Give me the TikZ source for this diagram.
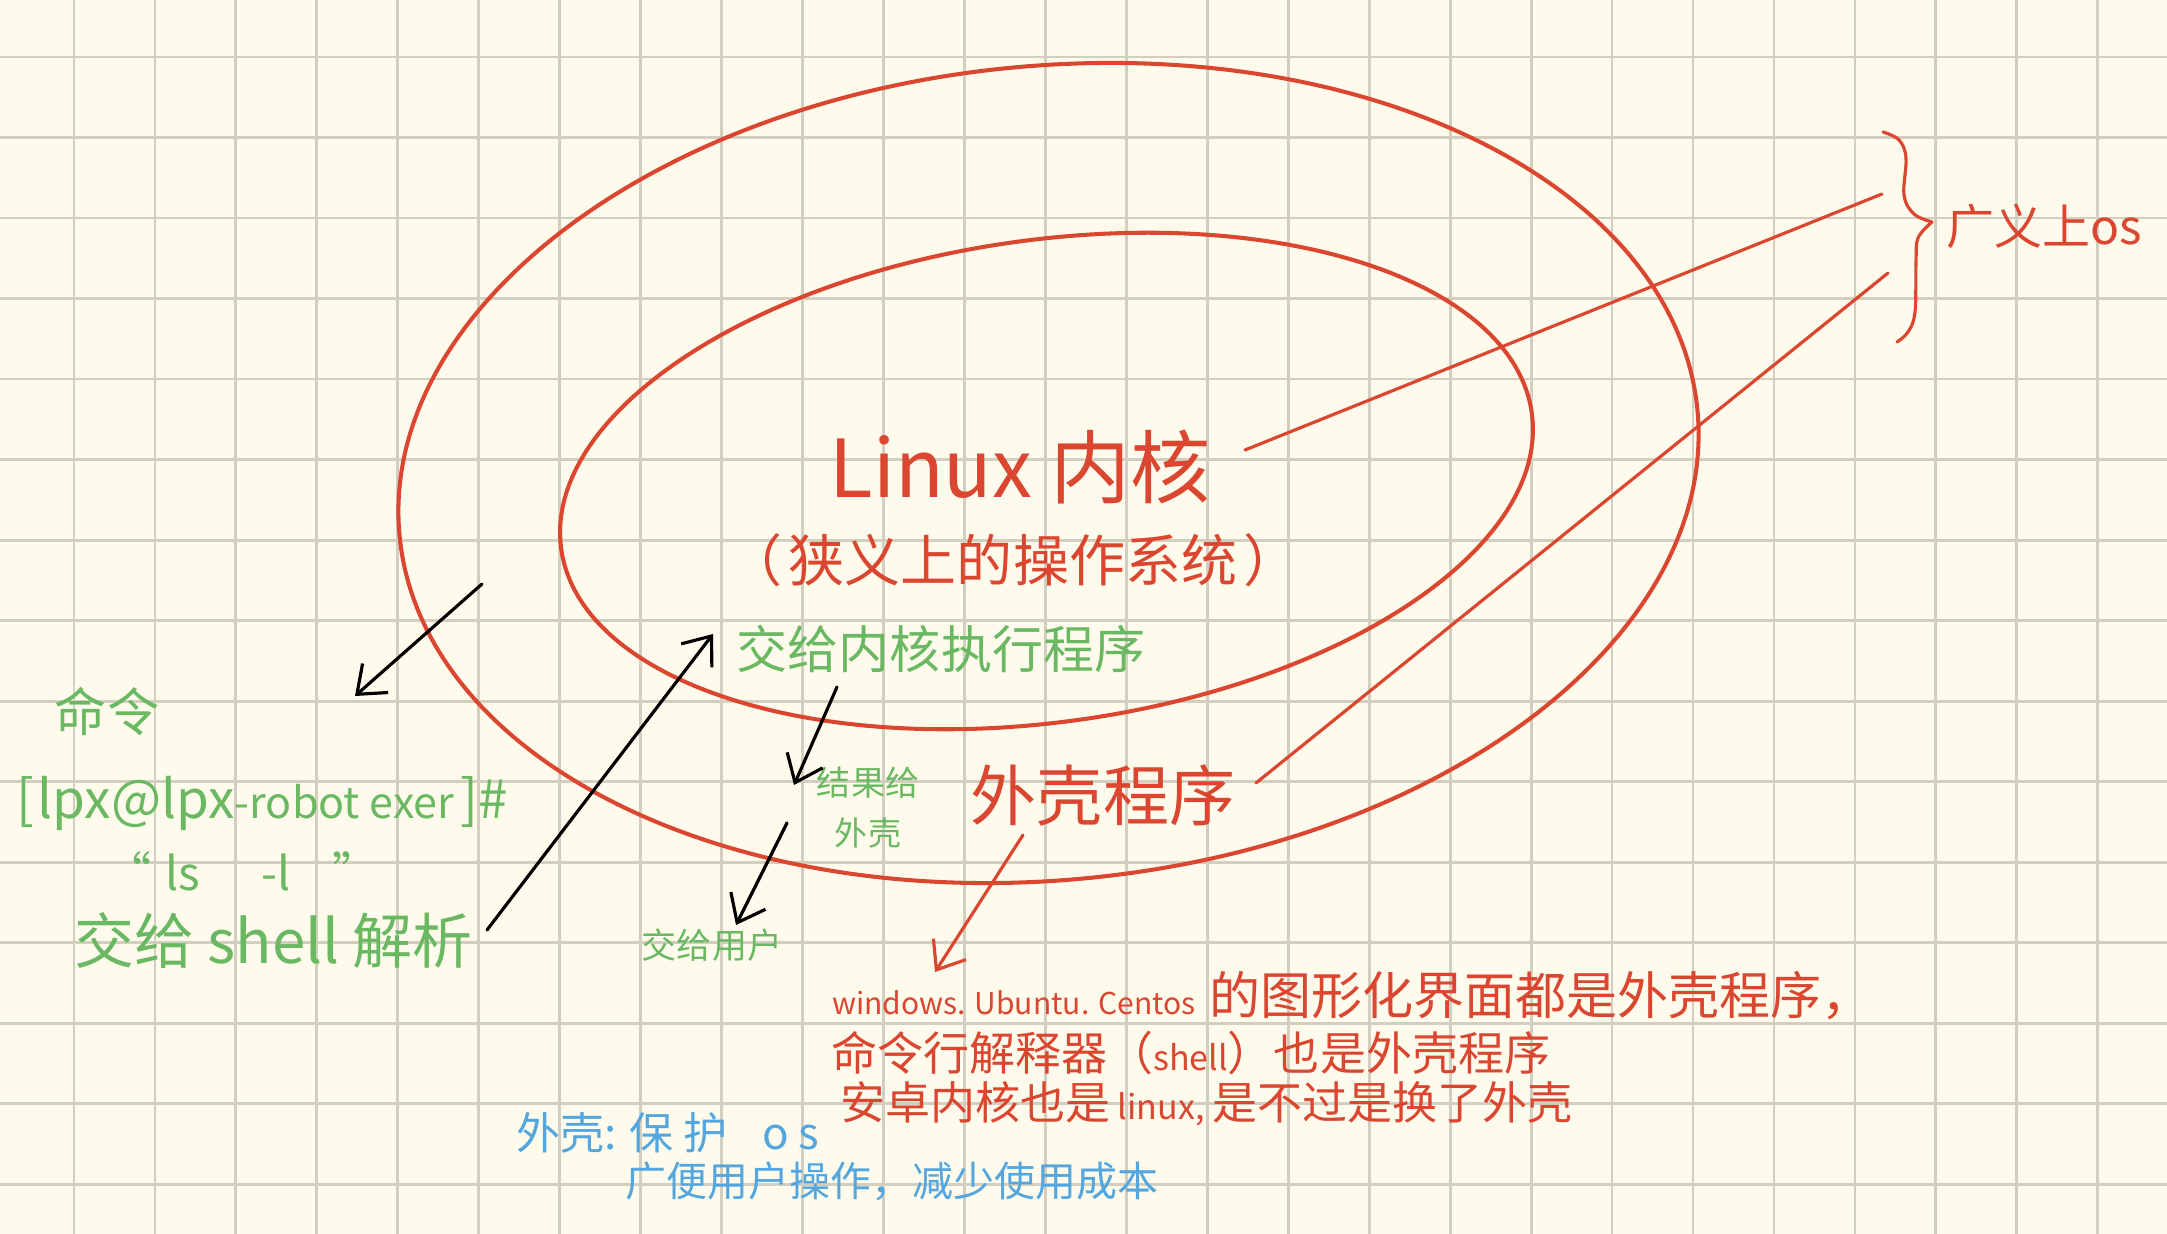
\documentclass[tikz,border=0pt]{standalone}
\usepackage{fontspec}
\setmainfont{Noto Sans CJK SC}
\usetikzlibrary{arrows.meta}
\definecolor{paper}{RGB}{254,251,236}
\definecolor{gridc}{RGB}{210,206,192}
\definecolor{inkred}{RGB}{218,70,48}
\definecolor{inkgreen}{RGB}{106,184,98}
\definecolor{inkblue}{RGB}{84,166,222}
\newdimen\mypx \mypx=0.284528pt
\newdimen\pxa \newdimen\pxb
\newcommand\pxfont[1]{\pxa=#1\mypx\relax\pxb=1.2\pxa\relax\fontsize{\the\pxa}{\the\pxb}\selectfont}
\begin{document}
\begin{tikzpicture}[x=0.01cm,y=-0.01cm,
  gridline/.style={draw=gridc, line width=0.8pt},
  oval/.style={draw=inkred, line width=1.15pt},
  redline/.style={draw=inkred, line width=0.9pt, line cap=round},
  arr/.style={draw=black, line width=0.9pt, line cap=round, -{Straight Barb[length=7pt,width=11pt,line width=0.9pt]}},
  redarr/.style={arr, draw=inkred},
  lbl/.style={inner sep=0pt, outer sep=0pt},
  tred/.style={text=inkred},
  tgreen/.style={text=inkgreen},
  tblue/.style={text=inkblue}]
\fill[paper] (0,0) rectangle (2167,1234);
\useasboundingbox (0,0) rectangle (2167,1234);
\foreach \i in {0,...,25} \draw[gridline] ({74+80.95*\i},0) -- ({74+80.95*\i},1234);
\foreach \j in {0,...,14} \draw[gridline] (0,{57+80.52*\j}) -- (2167,{57+80.52*\j});
% ovals
\draw[oval, rotate around={5.6:(1048.5,473)}] (1048.5,473) ellipse [x radius=652, y radius=407];
\draw[oval, rotate around={8:(1046.5,481)}] (1046.5,481) ellipse [x radius=490, y radius=241];
% brace
\draw[redline] plot[smooth, tension=0.6] coordinates {(1883,132) (1899,140) (1906,158) (1904,195) (1914,214) (1932,222)};
\draw[redline] plot[smooth, tension=0.6] coordinates {(1932,222) (1918,238) (1916,262) (1915,312) (1908,332) (1897,342)};
% texts
\node[lbl, tred, font=\pxfont{80}] (kernel) at (1020,467) {Linux 内核};
\node[lbl, tred, font=\pxfont{56}] (narrow) at (1013,560) {（\hspace{6\mypx}狭义上的操作系统\hspace{6\mypx}）};
\node[lbl, tgreen, font=\pxfont{51}] (exec) at (941,649) {交给内核执行程序};
\node[lbl, tgreen, font=\pxfont{34}] (res1) at (868,783) {结果给};
\node[lbl, tgreen, font=\pxfont{33}] (res2) at (868,833) {外壳};
\node[lbl, tred, font=\pxfont{66}] (shellprog) at (1103,795) {外壳程序};
\node[lbl, tgreen, font=\pxfont{35}] (touser) at (712,945) {交给用户};
\node[lbl, tgreen, font=\pxfont{52}] (cmd) at (107,712) {命令};
\node[lbl, tgreen, font=\pxfont{53}, anchor=base west] (prompt) at (16,818) {[\hspace{4\mypx}lpx@lpx{\pxfont{43}-robot exer}\hspace{6\mypx}]\#};
\node[lbl, tgreen, font=\pxfont{46}, anchor=base west] (lsl) at (105,890) {``\hspace{14\mypx}ls\hspace{62\mypx}-l\hspace{42\mypx}''};
\node[lbl, tgreen, font=\pxfont{60}, anchor=base west] (parse) at (74,963) {交给 shell 解析};
\node[lbl, tred, font=\pxfont{51}, anchor=base west] (gui) at (832,1014) {{\pxfont{30}windows. Ubuntu. Centos}\hspace{14\mypx}的图形化界面都是外壳程序，};
\node[lbl, tred, font=\pxfont{46}, anchor=base west] (cli) at (831,1070) {命令行解释器（{\pxfont{34}shell}）也是外壳程序};
\node[lbl, tred, font=\pxfont{45}, anchor=base west] (android) at (840,1119) {安卓内核也是{\pxfont{34} linux, }是不过是换了外壳};
\node[lbl, tblue, font=\pxfont{44}, anchor=base west] (protect) at (516,1149) {外壳: 保 护\hspace{35\mypx}o s};
\node[lbl, tblue, font=\pxfont{41}, anchor=base west] (ease) at (625,1196) {广便用户操作，减少使用成本};
\node[lbl, tred, font=\pxfont{48}] (broad) at (2044,226) {广义上os};
% connector end points
\coordinate (aS) at (482,584); \coordinate (aE) at (355,696);
\coordinate (bS) at (487,930); \coordinate (bE) at (713,634);
\coordinate (cS) at (837,687); \coordinate (cE) at (794,785);
\coordinate (dS) at (787,823); \coordinate (dE) at (736,925);
\coordinate (eS) at (1023,835); \coordinate (eE) at (935,972);
\coordinate (l1S) at (1245,450); \coordinate (l1E) at (1882,194);
\coordinate (l2S) at (1256,783); \coordinate (l2E) at (1888,273);
% connectors
\draw[arr] (aS) -- (aE);
\draw[arr] (bS) -- (bE);
\draw[arr] (cS) -- (cE);
\draw[arr] (dS) -- (dE);
\draw[redarr] (eS) -- (eE);
\draw[redline] (l1S) -- (l1E);
\draw[redline] (l2S) -- (l2E);
\end{tikzpicture}
\end{document}
